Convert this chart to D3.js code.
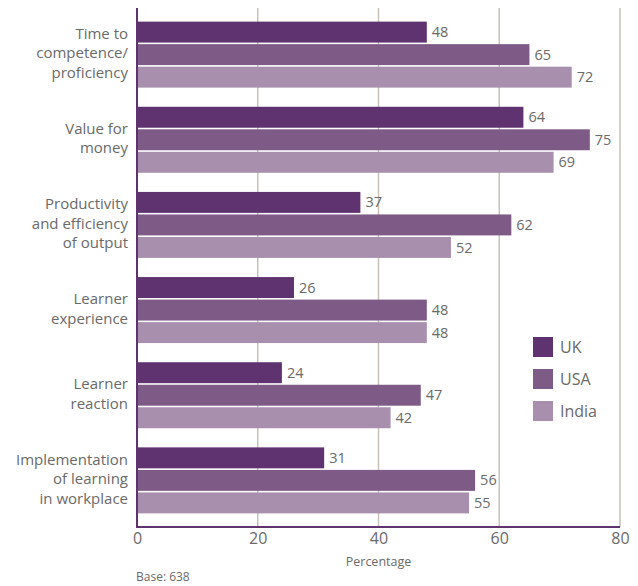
<!DOCTYPE html>
<html>
<head>
<meta charset="utf-8">
<script src="https://cdn.jsdelivr.net/npm/d3@7"></script>
<style>
  body { margin: 0; background: #fff; }
  text { font-family: "Open Sans", "Noto Sans", sans-serif; fill: #6a6a6a; }
</style>
</head>
<body>
<svg id="chart" width="638" height="586"></svg>
<script>
const categories = [
  ['Time to', 'competence/', 'proficiency'],
  ['Value for', 'money'],
  ['Productivity', 'and efficiency', 'of output'],
  ['Learner', 'experience'],
  ['Learner', 'reaction'],
  ['Implementation', 'of learning', 'in workplace']
];
const seriesNames = ['UK', 'USA', 'India'];
const ukValues = [48, 64, 37, 26, 24, 31];
const usaValues = [65, 75, 62, 48, 47, 56];
const indiaValues = [72, 69, 52, 48, 42, 55];
const xTicks = [0, 20, 40, 60, 80];

const COLORS = {
  UK: '#5e336f',
  USA: '#7e5b87',
  India: '#a78fad'
};

const PAD = { left: 137, right: 18, top: 8, bottom: 59 };
const W = 638, H = 586;

const svg = d3.select('#chart');
const catKeys = categories.map(d => d.join(' '));
const values = { UK: ukValues, USA: usaValues, India: indiaValues };

const x = d3.scaleLinear()
  .domain([0, 80])
  .range([PAD.left, W - PAD.right]);

const y = d3.scaleBand()
  .domain(catKeys)
  .range([PAD.top, H - PAD.bottom])
  .paddingInner(0.225)
  .paddingOuter(0.16);

const ySub = d3.scaleBand()
  .domain(seriesNames)
  .range([0, y.bandwidth()])
  .paddingInner(0.07);

// grid
svg.append('g')
  .selectAll('line')
  .data(xTicks.slice(1))
  .enter()
  .append('line')
  .attr('x1', d => x(d))
  .attr('x2', d => x(d))
  .attr('y1', PAD.top)
  .attr('y2', H - PAD.bottom)
  .attr('stroke', '#c9c2b6')
  .attr('stroke-width', 1.5);

// bars
catKeys.forEach((cat, i) => {
  const g = svg.append('g')
    .attr('transform', 'translate(0,' + y(cat) + ')');
  seriesNames.forEach(s => {
    const v = values[s][i];
    g.append('rect')
      .attr('x', x(0))
      .attr('y', ySub(s))
      .attr('width', x(v) - x(0))
      .attr('height', ySub.bandwidth())
      .attr('fill', COLORS[s]);
    g.append('text')
      .attr('x', x(v) + 5)
      .attr('y', ySub(s) + ySub.bandwidth() / 2)
      .attr('dy', '0.35em')
      .style('font-size', '14.5px')
      .text(v);
  });

  // category label
  const lines = categories[i];
  const cy = y(cat) + y.bandwidth() / 2 - 1.5;
  const lh = 19.5;
  const t = svg.append('text')
    .attr('text-anchor', 'end')
    .style('font-size', '15px');
  lines.forEach((ln, j) => {
    t.append('tspan')
      .attr('x', PAD.left - 9)
      .attr('y', cy + (j - (lines.length - 1) / 2) * lh)
      .attr('dy', '0.35em')
      .text(ln);
  });
});

// axes
const axisX = d3.axisBottom(x)
  .tickValues(xTicks)
  .tickSize(0)
  .tickPadding(6);

const gx = svg.append('g')
  .attr('transform', 'translate(0,' + (H - PAD.bottom) + ')')
  .call(axisX);
gx.select('.domain').remove();
gx.selectAll('text')
  .style('font-size', '16px')
  .style('fill', '#6a6a6a');

svg.append('line')
  .attr('x1', x(0) - 1)
  .attr('x2', x(80))
  .attr('y1', H - PAD.bottom)
  .attr('y2', H - PAD.bottom)
  .attr('stroke', '#5e336f')
  .attr('stroke-width', 2);

svg.append('line')
  .attr('x1', x(0))
  .attr('x2', x(0))
  .attr('y1', PAD.top)
  .attr('y2', H - PAD.bottom + 1)
  .attr('stroke', '#5e336f')
  .attr('stroke-width', 2);

svg.append('text')
  .attr('x', x(40))
  .attr('y', 566)
  .attr('text-anchor', 'middle')
  .style('font-size', '12.5px')
  .text('Percentage');

svg.append('text')
  .attr('x', 136)
  .attr('y', 581)
  .style('font-size', '12px')
  .text('Base: 638');

// legend
const legend = svg.append('g')
  .attr('transform', 'translate(533,337)');
seriesNames.forEach((s, i) => {
  legend.append('rect')
    .attr('x', 0)
    .attr('y', i * 32)
    .attr('width', 20)
    .attr('height', 20)
    .attr('fill', COLORS[s]);
  legend.append('text')
    .attr('x', 27)
    .attr('y', i * 32 + 10)
    .attr('dy', '0.35em')
    .style('font-size', '16px')
    .text(s);
});
</script>
</body>
</html>
